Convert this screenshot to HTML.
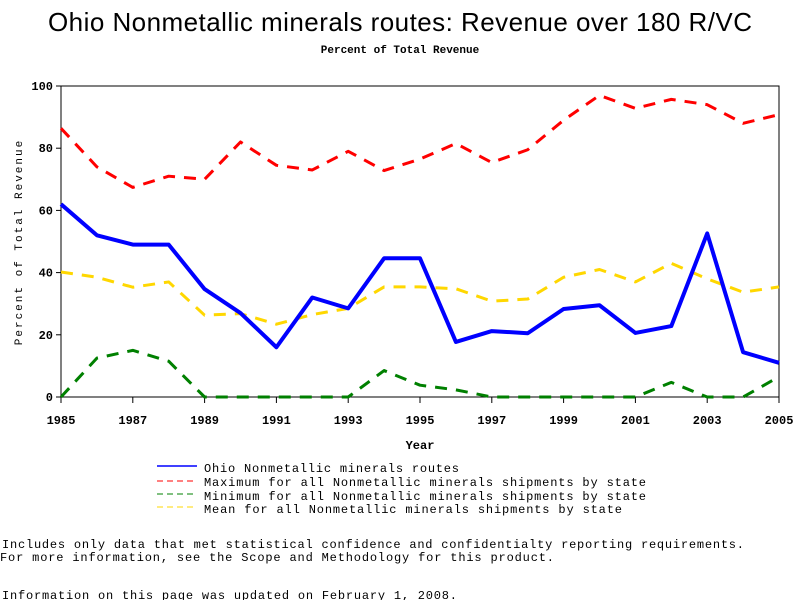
<!DOCTYPE html>
<html><head><meta charset="utf-8"><style>
body{margin:0;background:#fff}
svg{display:block}
text{font-family:"Liberation Mono",monospace;fill:#000}
.b{font-weight:bold}
</style></head><body>
<svg id="chart" width="800" height="600" viewBox="0 0 800 600" xmlns="http://www.w3.org/2000/svg">
<text x="48" y="31" textLength="704" style="font-family:'Liberation Sans',sans-serif;font-size:26px">Ohio Nonmetallic minerals routes: Revenue over 180 R/VC</text>
<text class="b" x="400" y="53" text-anchor="middle" font-size="11">Percent of Total Revenue</text>
<rect x="61" y="86" width="718" height="311" fill="none" stroke="#000" stroke-width="1"/>
<g id="yticks"></g><g id="xticks"></g>
<text transform="translate(22,242) rotate(-90)" text-anchor="middle" font-size="11" letter-spacing="2">Percent of Total Revenue</text>
<text class="b" x="420" y="449" text-anchor="middle" font-size="12">Year</text>
<g id="series"></g>
<g font-size="12">
<line x1="157" y1="466" x2="197" y2="466" stroke="#0000ff" stroke-width="1.5"/>
<text x="204" y="472" textLength="255">Ohio Nonmetallic minerals routes</text>
<line x1="157" y1="481" x2="197" y2="481" stroke="#ff0000" stroke-width="1" stroke-dasharray="6,4"/>
<text x="204" y="486" textLength="442">Maximum for all Nonmetallic minerals shipments by state</text>
<line x1="157" y1="494" x2="197" y2="494" stroke="#008000" stroke-width="1" stroke-dasharray="6,4"/>
<text x="204" y="500" textLength="442">Minimum for all Nonmetallic minerals shipments by state</text>
<line x1="157" y1="507" x2="197" y2="507" stroke="#ffd700" stroke-width="1" stroke-dasharray="6,4"/>
<text x="204" y="513" textLength="418">Mean for all Nonmetallic minerals shipments by state</text>
</g>
<g font-size="12">
<text x="2" y="548" textLength="742">Includes only data that met statistical confidence and confidentialty reporting requirements.</text>
<text x="0" y="561" textLength="554">For more information, see the Scope and Methodology for this product.</text>
<text x="2" y="599" textLength="455">Information on this page was updated on February 1, 2008.</text>
</g>
</svg>
<script>
const years=[1985,1986,1987,1988,1989,1990,1991,1992,1993,1994,1995,1996,1997,1998,1999,2000,2001,2002,2003,2004,2005];
const ohio=[62,52,49,49,34.7,27,16,32,28.5,44.6,44.6,17.7,21.2,20.5,28.3,29.5,20.6,22.8,52.6,14.4,11];
const maxv=[86.4,74,67.4,71,70,82,74.5,73,79,72.8,76.5,81.5,75.4,79.5,89,97,92.8,95.7,94,88,90.8];
const minv=[0,12.5,15,11.5,0,0,0,0,0,8.5,3.8,2.3,0,0,0,0,0,4.7,0,0,6.5];
const meanv=[40.2,38.5,35.3,37,26.3,26.8,23.4,26.5,28.5,35.4,35.4,34.8,30.8,31.5,38.5,41,37,43,38,33.7,35.4];
const yTicks=[0,20,40,60,80,100];
const xTicks=[1985,1987,1989,1991,1993,1995,1997,1999,2001,2003,2005];
const NS="http://www.w3.org/2000/svg";
const X=v=>61+(v-1985)*(718/20);
const Y=v=>397-v*3.11;
function mk(t,a,p){const e=document.createElementNS(NS,t);for(const k in a)e.setAttribute(k,a[k]);p.appendChild(e);return e;}
const yg=document.getElementById('yticks');
yTicks.forEach(v=>{
 const l=mk('line',{x1:56,x2:61,y1:Y(v),y2:Y(v),stroke:'#000'},yg);
 
 
 const t=mk('text',{x:53,y:Y(v)+4,'text-anchor':'end','font-size':12,'class':'b'},yg);
 t.textContent=v;
 
 
});
const xg=document.getElementById('xticks');
xTicks.forEach(v=>{
 const l=mk('line',{x1:X(v),x2:X(v),y1:397,y2:403,stroke:'#000'},xg);
 
 
 const t=mk('text',{x:X(v),y:424,'text-anchor':'middle','font-size':12,'class':'b'},xg);
 t.textContent=v;
 
 
});
const sg=document.getElementById('series');
function line(vals,color,w,dash,name){
 const p=mk('polyline',{points:vals.map((v,i)=>X(years[i])+','+Y(v)).join(' '),fill:'none',stroke:color,'stroke-width':w,'stroke-linejoin':'round'},sg);
 if(dash)p.setAttribute('stroke-dasharray',dash);
 
 
}
line(maxv,'#ff0000',3,'12,9','max-series-line');
line(meanv,'#ffd700',3,'12,9','mean-series-line');
line(minv,'#008000',3,'12,9','min-series-line');
line(ohio,'#0000ff',4,null,'ohio-series-line');
</script>
</body></html>
